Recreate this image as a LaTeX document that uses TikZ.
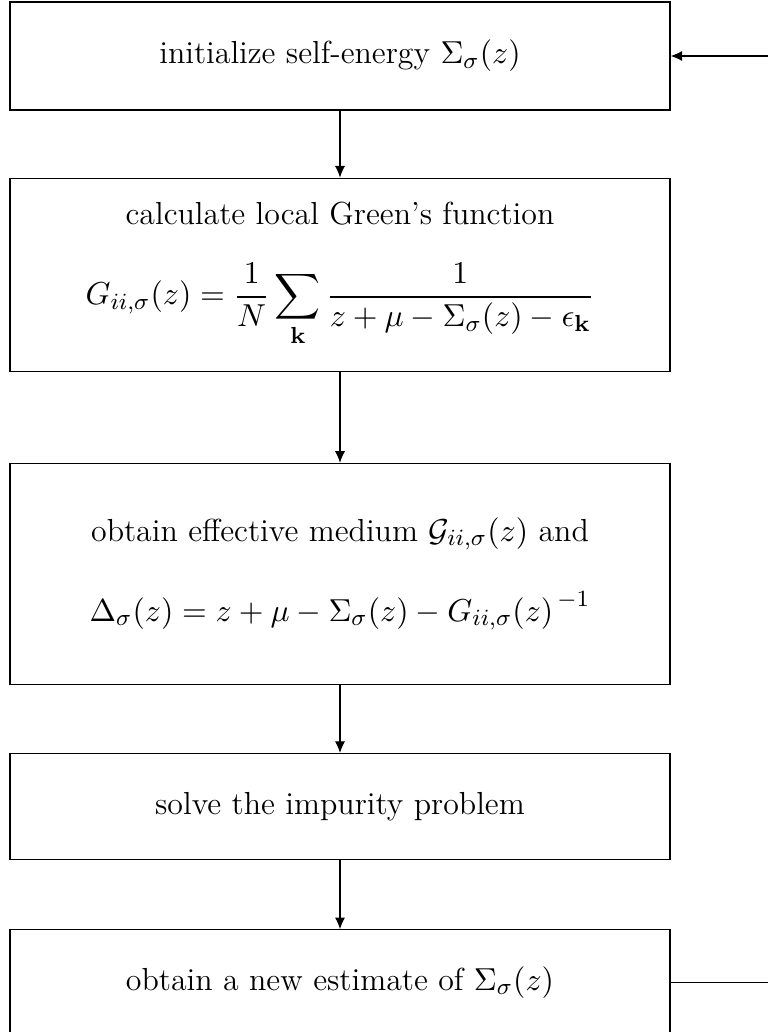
\documentclass[tikz,border=0pt]{standalone}
\usepackage{amsmath}
\usepackage{amssymb}
\usepackage{tikz}
\usetikzlibrary{arrows.meta, positioning}

\tikzset{
  stagebox/.style={draw, thin, minimum width=227.7pt, align=center, inner sep=2pt,
    font=\fontsize{11}{13.6}\selectfont},
  flowarrow/.style={-{Latex[length=4pt, width=3.5pt]}, thin}
}

\begin{document}
\begin{tikzpicture}[x=0.345pt, y=-0.345pt]
  % Page frame
  \useasboundingbox (0,0) rectangle (768,1032);
  \coordinate (edge) at (768,0);

  % --- Stages of the loop ---
  \node[stagebox, minimum height=37.3pt] (init) at (340,56) {initialize self-energy $\Sigma_\sigma(z)$};
  \node[stagebox, minimum height=66.6pt, below=23.1pt of init] (green)
    {calculate local Green's function\\[12pt]
     $\displaystyle G_{ii,\sigma}(z)=\frac{1}{N}\sum_{\mathbf{k}}\frac{1}{z+\mu-\Sigma_\sigma(z)-\epsilon_{\mathbf{k}}}$};
  \node[stagebox, minimum height=76.2pt, below=31.4pt of green] (medium)
    {obtain effective medium $\mathcal{G}_{ii,\sigma}(z)$ and\\[14pt]
     $\Delta_\sigma(z)=z+\mu-\Sigma_\sigma(z)-{G_{ii,\sigma}(z)}^{\,-1}$};
  \node[stagebox, minimum height=36.6pt, below=23.5pt of medium] (solver) {solve the impurity problem};
  \node[stagebox, minimum height=36.2pt, below=23.8pt of solver] (update) {obtain a new estimate of $\Sigma_\sigma(z)$};

  % --- Connectors ---
  \draw[flowarrow] (init) -- (green);
  \draw[flowarrow] (green) -- (medium);
  \draw[flowarrow] (medium) -- (solver);
  \draw[flowarrow] (solver) -- (update);

  % Feedback ends at the right border
  \coordinate (backin) at (init.east -| edge);
  \coordinate (backout) at (update.east -| edge);
  \draw[thin] (update.east) -- (backout);
  \draw[flowarrow] (backin) -- (init.east);
\end{tikzpicture}
\end{document}
